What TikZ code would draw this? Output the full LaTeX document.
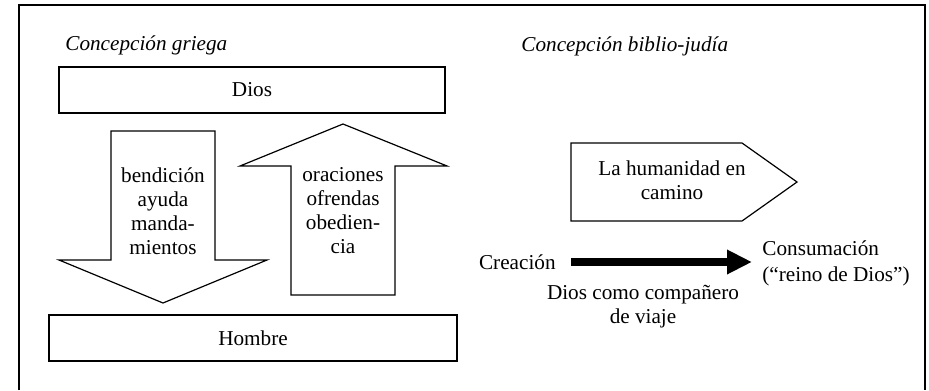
\documentclass[tikz,border=0pt]{standalone}
\usepackage{fontspec}
\setmainfont{Liberation Serif}
\usetikzlibrary{arrows.meta}
\newcommand\letra{\fontsize{10.6}{12}\selectfont}
\tikzset{
  caja/.style={draw, line width=0.6pt, minimum height=23pt, inner sep=0pt},
  flecha/.style={draw, line width=0.6pt, line join=miter},
  texto/.style={align=center, inner sep=0pt},
  titulo/.style={anchor=base west, inner sep=0pt, font=\letra\itshape},
}
\begin{document}
\begin{tikzpicture}[x=0.5pt, y=-0.5pt, font=\letra]
  \useasboundingbox (0,0) rectangle (929,390);
  % marco
  \draw [line width=1pt] (19,390) |- (925,5) -- (925,390);
  \node [titulo] (tgriega) at (65,51) {Concepción griega};
  \node [titulo] (tjudia) at (521,52) {Concepción biblio-judía};
  % izquierda
  \node [caja, minimum width=193pt] (dios) at (252,90) {Dios};
  \node [caja, minimum width=204pt] (hombre) at (253,338) {Hombre};
  \draw [flecha] (111,131) -- (215,131) -- (215,260) -- (267,260) -- (163,303)
                 -- (59,260) -- (111,260) -- cycle;
  \draw [flecha] (291,295) -- (395,295) -- (395,166) -- (447,166) -- (343,124)
                 -- (240,166) -- (291,166) -- cycle;
  \node [texto] (bajada) at (163,211) {bendición\\ayuda\\manda-\\mientos};
  \node [texto] (subida) at (343,211) {oraciones\\ofrendas\\obedien-\\cia};
  % derecha
  \draw [flecha] (571,143) -- (742,143) -- (797,182) -- (742,221) -- (571,221) -- cycle;
  \node [texto] (camino) at (672,180) {La humanidad en\\camino};
  \node [anchor=east, inner sep=0pt] (crea) at (556,262) {Creación};
  \node [anchor=west, align=left, inner sep=0pt] (cons) at (762,263)
        {Consumación\\[1pt](“reino de Dios”)};
  \node [texto] (viaje) at (643,307) {Dios como compañero\\de viaje};
  \draw [line width=4pt, -{Triangle[length=12.5pt, width=11.5pt]},
         shorten <=7.5pt, shorten >=5pt] (crea.east) -- (crea.east -| cons.west);
\end{tikzpicture}
\end{document}
